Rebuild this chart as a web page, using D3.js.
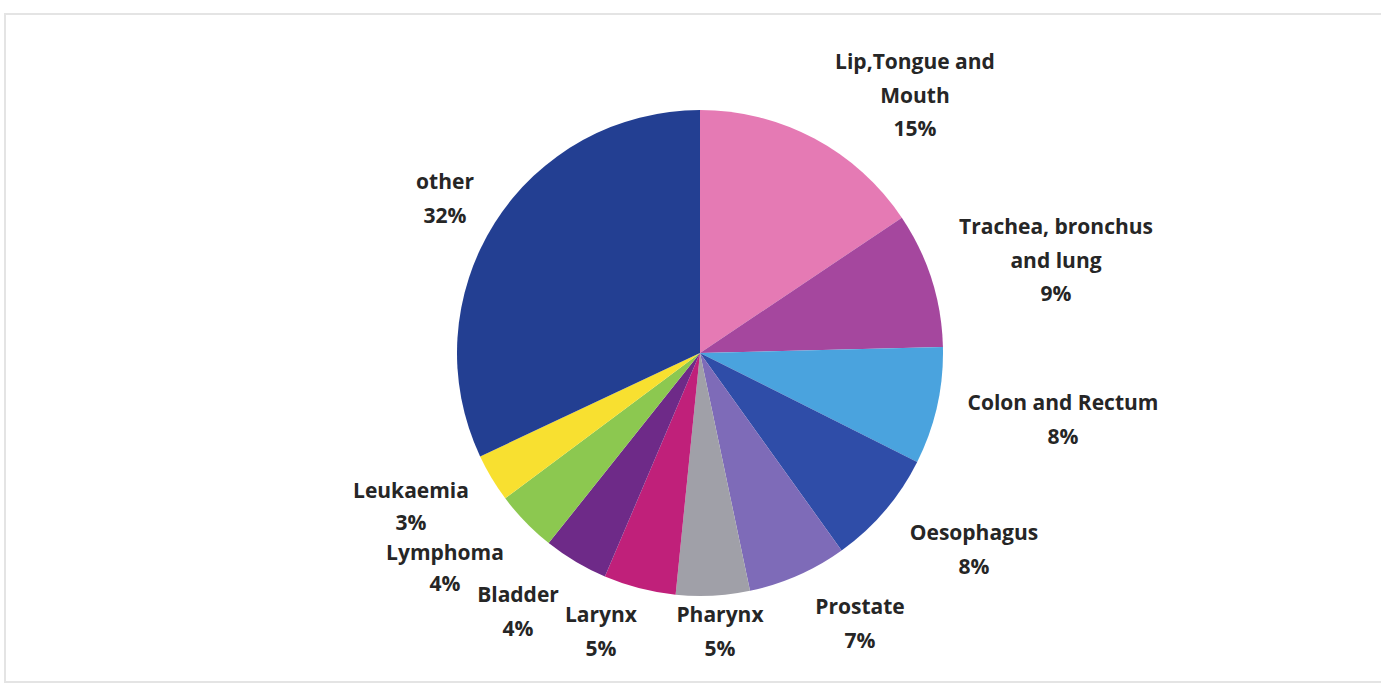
<!DOCTYPE html>
<html><head><meta charset="utf-8">
<script src="https://cdn.jsdelivr.net/npm/d3@7"></script>
<style>
html,body{margin:0;padding:0;background:#fff;}
svg{display:block;}
</style>
</head><body>
<svg id="chart" width="1381" height="686"></svg>
<script>
const categories = ["Lip,Tongue and Mouth","Trachea, bronchus and lung","Colon and Rectum","Oesophagus","Prostate","Pharynx","Larynx","Bladder","Lymphoma","Leukaemia","other"];
// slice shares (percent)
const values = [15.6, 9.0, 7.8, 7.7, 6.6, 4.9, 4.8, 4.3, 4.1, 3.2, 32.0];
// percentages printed in the labels
const pctLabels = ["15%","9%","8%","8%","7%","5%","5%","4%","4%","3%","32%"];
const colors = ["#E57AB4","#A5479E","#4AA3DE","#2F4DA8","#7E6BB8","#A0A0A8","#C0207A","#6E2A88","#8CC850","#F8E030","#233F92"];
const labelLines = [
  ["Lip,Tongue and","Mouth"],
  ["Trachea, bronchus","and lung"],
  ["Colon and Rectum"],
  ["Oesophagus"],
  ["Prostate"],
  ["Pharynx"],
  ["Larynx"],
  ["Bladder"],
  ["Lymphoma"],
  ["Leukaemia"],
  ["other"]
];
// label anchor positions (centre of first line) and line spacing
const labelPos = [[915,62],[1056,227],[1063,403],[974,533],[860,607],[720,615],[601,615],[518,595],[445,553],[411,491],[445,182]];
const lineGap = [33.5,33.5,33.5,33.5,33.5,33.5,33.5,33.5,31,32,33.5];

const svg = d3.select("#chart");
// frame
svg.append("rect").attr("x",5).attr("y",14).attr("width",1380).attr("height",668)
  .attr("fill","#fff").attr("stroke","#e4e4e4").attr("stroke-width",2);

const cx = 700, cy = 353, r = 243;
const pie = d3.pie().sort(null).value(d => d)(values);
const arc = d3.arc().innerRadius(0).outerRadius(r);
const g = svg.append("g").attr("transform",`translate(${cx},${cy})`);
g.selectAll("path").data(pie).join("path")
  .attr("d",arc)
  .attr("fill",(d,i)=>colors[i]);

categories.forEach((c,i)=>{
  const lines = labelLines[i].concat([pctLabels[i]]);
  const t = svg.append("text")
    .attr("x",labelPos[i][0]).attr("y",labelPos[i][1])
    .attr("text-anchor","middle")
    .attr("font-family","'Open Sans', sans-serif")
    .attr("font-weight","bold")
    .attr("font-size",21)
    .attr("fill","#262626");
  lines.forEach((l,j)=>{
    t.append("tspan").attr("x",labelPos[i][0]).attr("dy", j===0 ? "0.35em" : lineGap[i]).text(l);
  });
});
</script>
</body></html>
